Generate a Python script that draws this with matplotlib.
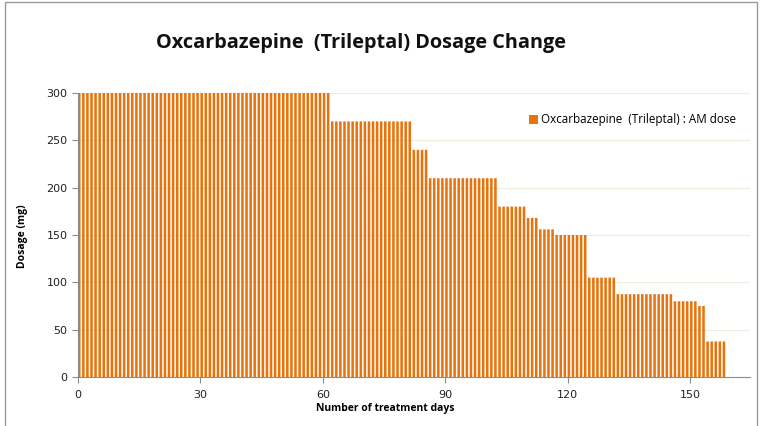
import numpy as np
import matplotlib
matplotlib.use("Agg")
import matplotlib.pyplot as plt
from matplotlib.patches import Rectangle

# dose steps: dose (mg) and number of days at that dose
step_dose = [300, 270, 240, 210, 180, 168, 156, 150, 105, 87.5, 80, 75, 37.5]
step_days = [62, 20, 4, 17, 7, 3, 4, 8, 7, 14, 6, 2, 5]

dose = np.repeat(step_dose, step_days)
days = np.arange(len(dose))

orange = "#E8730C"

fig = plt.figure(figsize=(7.62, 4.26), dpi=100)
ax = fig.add_axes([78/762, 1-377/426, (750-78)/762, (377-93)/426])

bars = ax.bar(days, dose, width=0.62, align="edge", color=orange, zorder=2,
              lw=0, label="Oxcarbazepine  (Trileptal) : AM dose")
for b in bars:
    b.set_snap(False)

ax.set_xlim(0, 164.7)
ax.set_ylim(0, 300)
ax.set_xticks([0, 30, 60, 90, 120, 150])
ax.set_yticks([0, 50, 100, 150, 200, 250, 300])
ax.yaxis.grid(True, color="#efece0", lw=0.8, zorder=0)
for s in ["top", "right"]:
    ax.spines[s].set_visible(False)
for s in ["left", "bottom"]:
    ax.spines[s].set_color("#8c8c8c")
ax.tick_params(axis="both", colors="#8c8c8c", labelcolor="#222222",
               labelsize=8, length=4, width=0.8)
ax.tick_params(axis="x", pad=5)

fig.text(361/762, 1-43/426, "Oxcarbazepine  (Trileptal) Dosage Change",
         ha="center", va="center", fontsize=14.3, fontweight="bold",
         family="Open Sans", color="#111111")
fig.text(385/762, 1-409/426, "Number of treatment days", ha="center",
         va="center", fontsize=7.5, fontweight="bold", family="Open Sans")
fig.text(22/762, 1-236/426, "Dosage (mg)", ha="center", va="center",
         rotation=90, fontsize=7.5, fontweight="bold", family="Open Sans")

leg = ax.legend(loc="upper left", bbox_to_anchor=(518/762, 1-103/426),
                bbox_transform=fig.transFigure, frameon=False,
                handlelength=0.8, handleheight=0.8, handletextpad=0.3,
                prop={"family": "Open Sans", "size": 8.4})

fig.patches.append(Rectangle((5/762, -0.1), (757-5)/762, 1.1 - 1.5/426,
                             transform=fig.transFigure, fill=False,
                             edgecolor="#9a9a9a", lw=1))

fig.savefig("out.png", dpi=100)
